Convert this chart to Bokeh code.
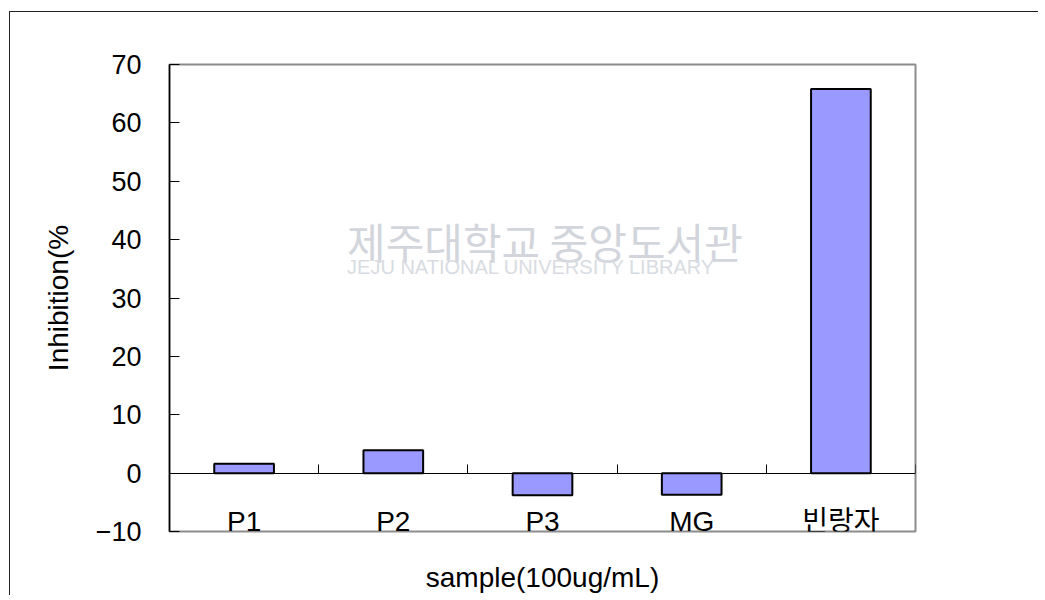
from bokeh.plotting import figure
from bokeh.models import LinearAxis, FixedTicker, Range1d, Label
from bokeh.embed import file_html
from bokeh.resources import INLINE

# ---- data ----
categories = ["P1", "P2", "P3", "MG", "빈랑자"]
inhibition = [1.6, 3.9, -3.8, -3.7, 65.8]
y_ticks = [-10, 0, 10, 20, 30, 40, 50, 60, 70]
x_title = "sample(100ug/mL)"
y_title = "Inhibition(%"

n = len(categories)
centers = [i + 0.5 for i in range(n)]
boundaries = [i + 1 for i in range(n)]

FONT = "Liberation Sans, Noto Sans CJK KR"
FS = "28px"

p = figure(width=1029, height=584, output_backend="svg", toolbar_location=None,
           x_range=Range1d(0, n), y_range=Range1d(-10, 70),
           x_axis_type=None, y_axis_type=None,
           min_border_left=159, min_border_top=52,
           min_border_right=124, min_border_bottom=65)
p.outline_line_color = "#8c8c8c"
p.outline_line_width = 2
p.background_fill_color = "white"
p.border_fill_color = "white"
p.styles = {"border-left": "1px solid #222", "border-top": "1px solid #222",
            "margin-left": "9px", "margin-top": "11px"}

# watermark
p.add_layout(Label(x=1.19, y=39.8, text="제주대학교 중앙도서관", text_color="#d2d6dc",
                   text_font="Noto Sans CJK KR", text_font_size="42px",
                   text_baseline="middle", text_align="left"))
p.add_layout(Label(x=1.19, y=35.3, text="JEJU NATIONAL UNIVERSITY  LIBRARY", text_color="#d8dce2",
                   text_font="Liberation Sans", text_font_size="20px",
                   text_baseline="middle", text_align="left"))

# bars
p.vbar(x=centers, top=inhibition, bottom=0, width=0.4,
       fill_color="#9999FF", line_color="black", line_width=2)

# y axis
yaxis = LinearAxis(ticker=FixedTicker(ticks=y_ticks), axis_label=y_title)
yaxis.axis_line_color = "black"
yaxis.axis_line_width = 1.5
yaxis.major_tick_in = 10
yaxis.major_tick_out = 0
yaxis.minor_tick_line_color = None
yaxis.major_tick_line_color = "black"
yaxis.major_label_standoff = 28
yaxis.major_label_text_font = FONT
yaxis.major_label_text_font_size = "27px"
yaxis.major_label_text_color = "black"
yaxis.axis_label_text_font = FONT
yaxis.axis_label_text_font_size = FS
yaxis.axis_label_text_font_style = "normal"
yaxis.axis_label_text_color = "black"
yaxis.axis_label_standoff = 19
p.add_layout(yaxis, "left")

# zero line: category labels at centres, tick marks at category boundaries
caxis = LinearAxis(ticker=FixedTicker(ticks=centers, minor_ticks=boundaries), fixed_location=0)
caxis.major_label_overrides = {c: lab for c, lab in zip(centers, categories)}
caxis.axis_line_color = "black"
caxis.axis_line_width = 1.2
caxis.major_tick_line_color = None
caxis.minor_tick_line_color = "black"
caxis.minor_tick_in = 9
caxis.minor_tick_out = 0
caxis.major_label_standoff = 27
caxis.major_label_text_font = FONT
caxis.major_label_text_font_size = FS
caxis.major_label_text_color = "black"
p.add_layout(caxis, "below")

# x title
taxis = LinearAxis(ticker=FixedTicker(ticks=[]), axis_label=x_title)
taxis.axis_line_color = None
taxis.major_tick_line_color = None
taxis.minor_tick_line_color = None
taxis.major_label_standoff = 0
taxis.axis_label_standoff = 30
taxis.axis_label_text_font = FONT
taxis.axis_label_text_font_size = FS
taxis.axis_label_text_font_style = "normal"
taxis.axis_label_text_color = "black"
p.add_layout(taxis, "below")

open("out.html", "w").write(file_html(p, INLINE))
